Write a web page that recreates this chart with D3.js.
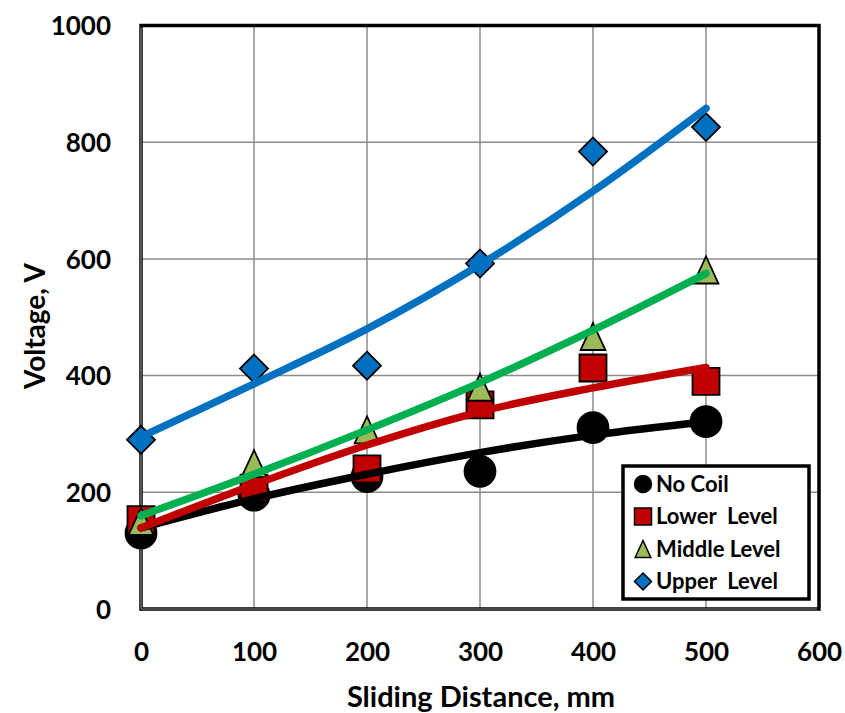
<!DOCTYPE html>
<html>
<head>
<meta charset="utf-8">
<script src="https://cdn.jsdelivr.net/npm/d3@7"></script>
<style>
  html, body { margin: 0; padding: 0; background: #fff; }
  svg text { font-family: Lato, "Open Sans", "Liberation Sans", sans-serif; font-weight: 700; fill: #000; }
</style>
</head>
<body>
<svg id="chart" width="845" height="713"></svg>
<script>
// ---- data ----
const distances = [0, 100, 200, 300, 400, 500];
const noCoil     = [130, 195, 227, 236, 311, 321];
const lowerLevel = [153, 207, 240, 350, 413, 390];
const middleLevel= [150, 249, 307, 380, 467, 581];
const upperLevel = [290, 412, 417, 592, 784, 826];
// trend lines at each tick
const trendNoCoil = [139, 189, 231, 268, 298, 321];
const trendLower  = [139, 213, 281, 338, 379, 414];
const trendMiddle = [160, 231, 307, 388, 478, 575];
const trendUpper  = [295, 386, 480, 590, 716, 858];
const xTicks = [0, 100, 200, 300, 400, 500, 600];
const yTicks = [0, 200, 400, 600, 800, 1000];
const seriesNames = ["No Coil", "Lower  Level", "Middle Level", "Upper  Level"];

const series = [
  { name: seriesNames[0], values: noCoil, trend: trendNoCoil, shape: "circle", fill: "#000000", line: "#000000" },
  { name: seriesNames[1], values: lowerLevel, trend: trendLower, shape: "square", fill: "#c00000", line: "#c00000" },
  { name: seriesNames[2], values: middleLevel, trend: trendMiddle, shape: "triangle", fill: "#9bbb59", line: "#00b050" },
  { name: seriesNames[3], values: upperLevel, trend: trendUpper, shape: "diamond", fill: "#0070c0", line: "#0070c0" }
];

const svg = d3.select("#chart");
const pLeft = 141, pRight = 819, pTop = 25.5, pBottom = 609;
const x = d3.scaleLinear().domain([0, 600]).range([pLeft, pRight]);
const y = d3.scaleLinear().domain([0, 1000]).range([pBottom, pTop]);

// gridlines
const grid = svg.append("g");
grid.selectAll("line.v").data(xTicks.filter(t => t > 0 && t < 600)).enter().append("line")
  .attr("x1", d => x(d)).attr("x2", d => x(d)).attr("y1", pTop).attr("y2", pBottom)
  .attr("stroke", "#8c8c8c").attr("stroke-width", 1.5);
grid.selectAll("line.h").data(yTicks.filter(t => t > 0 && t < 1000)).enter().append("line")
  .attr("x1", pLeft).attr("x2", pRight).attr("y1", d => y(d)).attr("y2", d => y(d))
  .attr("stroke", "#8c8c8c").attr("stroke-width", 1.5);

// frame
svg.append("rect").attr("x", pLeft).attr("y", pTop).attr("width", pRight - pLeft).attr("height", pBottom - pTop)
  .attr("fill", "none").attr("stroke", "#000").attr("stroke-width", 3.5);
svg.append("line").attr("x1", pLeft).attr("x2", pLeft).attr("y1", pTop + 2).attr("y2", pBottom)
  .attr("stroke", "#8c8c8c").attr("stroke-width", 1.2);
svg.append("line").attr("x1", pLeft).attr("x2", pRight - 2).attr("y1", pBottom).attr("y2", pBottom)
  .attr("stroke", "#8c8c8c").attr("stroke-width", 1.2);

// axes (labels only)
const fmt = d3.format("d");
const xAxis = d3.axisBottom(x).tickValues(xTicks).tickFormat(fmt).tickSize(0).tickPadding(0);
const gx = svg.append("g").attr("transform", `translate(0,${pBottom + 43})`).call(xAxis);
gx.select(".domain").remove();
gx.selectAll("text").attr("font-size", 26).attr("dy", "0.36em").attr("y", 0)
  .style("font-family", "Lato, 'Open Sans', sans-serif").style("font-weight", 700).attr("fill", "#000");

const yAxis = d3.axisLeft(y).tickValues(yTicks).tickFormat(fmt).tickSize(0).tickPadding(0);
const gy = svg.append("g").attr("transform", `translate(${pLeft - 30},0)`).call(yAxis);
gy.select(".domain").remove();
gy.selectAll("text").attr("font-size", 26).attr("dy", "0.36em")
  .style("font-family", "Lato, 'Open Sans', sans-serif").style("font-weight", 700).attr("fill", "#000");

// axis titles
svg.append("text").attr("x", 481).attr("y", 707).attr("text-anchor", "middle")
  .attr("font-size", 29).text("Sliding Distance, mm");
svg.append("text").attr("transform", `translate(45,326) rotate(-90)`).attr("text-anchor", "middle")
  .attr("font-size", 28).text("Voltage, V");

// marker path generator
function markerPath(shape, s) {
  switch (shape) {
    case "circle": return d3.symbol(d3.symbolCircle, Math.PI * (s / 2) * (s / 2))();
    case "square": return d3.symbol(d3.symbolSquare, s * s)();
    case "triangle": {
      const w = s * 0.92, h = s;
      return `M0,${-h / 2}L${w / 2},${h / 2}L${-w / 2},${h / 2}Z`;
    }
    case "diamond": {
      const r = s / 2;
      return `M0,${-r}L${r},0L0,${r}L${-r},0Z`;
    }
  }
}
const markerSize = { circle: 31, square: 27, triangle: 27, diamond: 28 };

// markers
const mg = svg.append("g");
series.forEach(s => {
  mg.append("g").selectAll("path").data(s.values).enter().append("path")
    .attr("transform", (d, i) => `translate(${x(distances[i])},${y(d)})`)
    .attr("d", markerPath(s.shape, markerSize[s.shape]))
    .attr("fill", s.fill).attr("stroke", "#000").attr("stroke-width", 1.8);
});

// trend lines
const lineGen = d3.line().x((d, i) => x(distances[i])).y(d => y(d)).curve(d3.curveMonotoneX);
series.forEach(s => {
  svg.append("path").datum(s.trend).attr("d", lineGen)
    .attr("fill", "none").attr("stroke", s.line).attr("stroke-width", 7.5).attr("stroke-linecap", "round");
});

// legend
const lg = svg.append("g");
const lx = 623, ly = 466, lw = 186, lh = 133;
lg.append("rect").attr("x", lx).attr("y", ly).attr("width", lw).attr("height", lh)
  .attr("fill", "#fff").attr("stroke", "#000").attr("stroke-width", 3.5);
const legendSize = { circle: 17, square: 17, triangle: 17, diamond: 17 };
series.forEach((s, i) => {
  const cy = 484 + i * 32.5;
  lg.append("path").attr("transform", `translate(643,${cy})`)
    .attr("d", markerPath(s.shape, legendSize[s.shape]))
    .attr("fill", s.fill).attr("stroke", "#000").attr("stroke-width", 1.5);
  lg.append("text").attr("x", 656).attr("y", cy).attr("dy", "0.36em")
    .attr("font-size", 22).style("white-space", "pre").text(s.name);
});
</script>
</body>
</html>
